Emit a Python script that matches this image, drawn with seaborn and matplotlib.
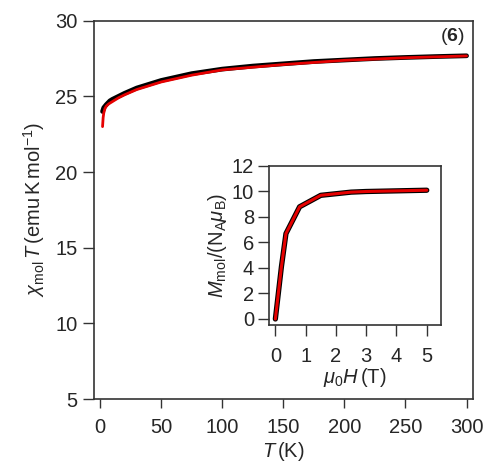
import matplotlib
matplotlib.use("Agg")
import matplotlib.pyplot as plt
import seaborn as sns
import pandas as pd

# Main panel: chi_mol*T vs T (black = data, red = fit)
T_data = [2, 3, 5, 8, 10, 15, 20, 30, 40, 50, 75, 100, 125, 150, 175, 200, 225, 250, 275, 300]
chiT_data = [24.0, 24.25, 24.45, 24.7, 24.8, 25.0, 25.2, 25.55, 25.8, 26.05, 26.5, 26.8,
             27.0, 27.15, 27.3, 27.4, 27.5, 27.57, 27.63, 27.68]
T_fit = [2, 2.5, 3, 4, 5, 7, 10, 15, 20, 30, 50, 75, 100, 150, 200, 250, 300]
chiT_fit = [23.0, 23.6, 23.9, 24.2, 24.35, 24.5, 24.65, 24.9, 25.1, 25.45, 25.95, 26.4,
            26.75, 27.1, 27.38, 27.55, 27.67]

# Inset: M vs H
H_data = [0, 0.2, 0.35, 0.8, 1.5, 2.5, 3, 4, 5]
M_data = [0, 4.1, 6.7, 8.8, 9.7, 9.95, 10.0, 10.05, 10.1]

main_xticks = [0, 50, 100, 150, 200, 250, 300]
main_yticks = [5, 10, 15, 20, 25, 30]
inset_xticks = [0, 1, 2, 3, 4, 5]
inset_yticks = [0, 2, 4, 6, 8, 10, 12]

sns.set_style("ticks")
plt.rcParams['font.family'] = ['Liberation Sans', 'DejaVu Sans']
plt.rcParams['mathtext.fontset'] = 'custom'
plt.rcParams['mathtext.rm'] = 'Liberation Sans'
plt.rcParams['mathtext.it'] = 'Liberation Sans:italic'
plt.rcParams['mathtext.bf'] = 'Liberation Sans:bold'

spine_c = "#333333"
RED = "#e60000"
fs = 14.5

fig = plt.figure(figsize=(4.87, 4.68), dpi=100)
ax = fig.add_axes([0.193, 0.1474, 0.7776, 0.8084])

df_d = pd.DataFrame({"T": T_data, "chiT": chiT_data})
df_f = pd.DataFrame({"T": T_fit, "chiT": chiT_fit})
sns.lineplot(data=df_d, x="T", y="chiT", ax=ax, color="black", lw=3.4,
             solid_capstyle="round", estimator=None, sort=False)
sns.lineplot(data=df_f, x="T", y="chiT", ax=ax, color=RED, lw=2.0,
             solid_capstyle="round", estimator=None, sort=False)

ax.set_xlim(-5, 305)
ax.set_ylim(5, 30)
ax.set_xticks(main_xticks)
ax.set_yticks(main_yticks)
ax.tick_params(axis="x", length=6.5, width=1, color=spine_c, labelsize=fs, pad=7)
ax.tick_params(axis="y", length=8, width=1, color=spine_c, labelsize=fs, pad=4)
for s in ax.spines.values():
    s.set_color(spine_c)
    s.set_linewidth(1.2)
ax.set_xlabel(r"$T\,$(K)", fontsize=fs, labelpad=2)
ax.set_ylabel(r"$\chi_{\rm mol}\,T\,$(emu$\,$K$\,$mol$^{-1}$)", fontsize=fs, labelpad=6)
ax.text(0.98, 0.985, r"($\mathbf{6}$)", transform=ax.transAxes, ha="right", va="top",
        fontsize=14)

# Inset
axi = fig.add_axes([0.553, 0.3056, 0.3525, 0.3397])
df_m = pd.DataFrame({"H": H_data, "M": M_data})
sns.lineplot(data=df_m, x="H", y="M", ax=axi, color="black", lw=3.8,
             solid_capstyle="round", solid_joinstyle="round", estimator=None, sort=False)
sns.lineplot(data=df_m, x="H", y="M", ax=axi, color=RED, lw=2.2,
             solid_capstyle="round", solid_joinstyle="round", estimator=None, sort=False)
axi.set_xlim(-0.2, 5.47)
axi.set_ylim(-0.47, 12)
axi.set_xticks(inset_xticks)
axi.set_yticks(inset_yticks)
axi.tick_params(axis="both", length=8, width=1, color=spine_c, labelsize=fs)
axi.tick_params(axis="x", pad=8)
axi.tick_params(axis="y", pad=3)
for s in axi.spines.values():
    s.set_color(spine_c)
    s.set_linewidth(1.2)
axi.set_xlabel(r"$\mu_0H\,$(T)", fontsize=fs, labelpad=0)
axi.set_ylabel(r"$M_{\rm mol}$/(N$_{\rm A}\mu_{\rm B}$)", fontsize=fs, labelpad=2)

fig.savefig("out.png", dpi=100)
